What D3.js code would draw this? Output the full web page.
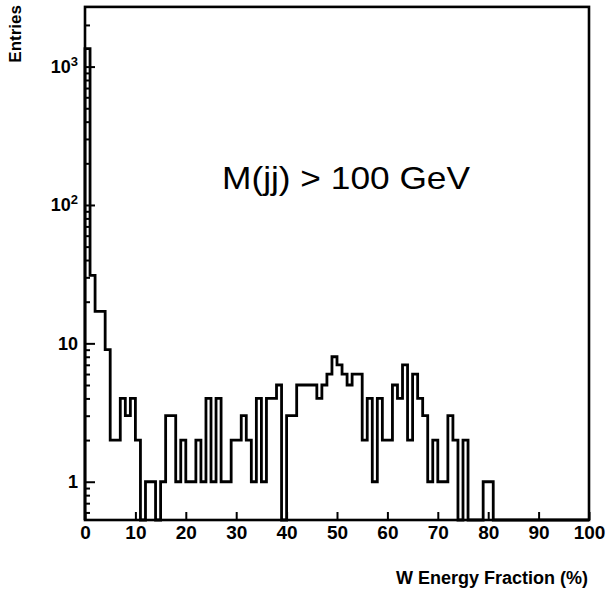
<!DOCTYPE html>
<html>
<head>
<meta charset="utf-8">
<script src="https://cdn.jsdelivr.net/npm/d3@7"></script>
<style>
  html, body { margin: 0; padding: 0; background: #fff; }
  svg { display: block; }
  text { font-family: "Liberation Sans", Arial, sans-serif; fill: #000; }
</style>
</head>
<body>
<svg id="chart" width="606" height="590"></svg>
<script>
// ---- data (counts per 1% bin, 0..100) ----
const binEdges = d3.range(0, 101, 1);
const counts = [
  1350, 31, 17, 17, 9, 2, 2, 4, 3, 4,
  2, 0, 1, 1, 0, 1, 3, 3, 1, 2,
  1, 1, 2, 1, 4, 1, 4, 1, 1, 2,
  2, 3, 2, 1, 4, 1, 4, 4, 5, 0,
  3, 3, 5, 5, 5, 5, 4, 5, 6, 8,
  7, 6, 5, 6, 6, 2, 4, 1, 4, 2,
  2, 5, 4, 7, 2, 6, 4, 3, 1, 2,
  1, 1, 3, 2, 0, 2, 0, 0, 0, 1,
  1, 0, 0, 0, 0, 0, 0, 0, 0, 0,
  0, 0, 0, 0, 0, 0, 0, 0, 0, 0
];
const xMajorTicks = [0, 10, 20, 30, 40, 50, 60, 70, 80, 90, 100];
const xMinorTicks = d3.range(0, 101, 2);
const yMajorTicks = [1, 10, 100, 1000];
const yMinorTicks = [0.6, 0.7, 0.8, 0.9, 2, 3, 4, 5, 6, 7, 8, 9, 20, 30, 40, 50, 60, 70, 80, 90, 200, 300, 400, 500, 600, 700, 800, 900, 2000];
const yDomain = [0.529, 2700];
const xLabel = "W Energy Fraction (%)";
const yLabel = "Entries";
const annotation = "M(jj) > 100 GeV";

// ---- layout ----
const svg = d3.select("#chart");
const L = 85, R = 589, T = 6.9, B = 520;
const x = d3.scaleLinear().domain([0, 100]).range([L, R]);
const y = d3.scaleLog().domain(yDomain).range([B, T]);

// histogram outline
const yv = v => y(Math.max(v, yDomain[0]));
let d = `M${x(binEdges[0])},${B}`;
counts.forEach((c, i) => {
  d += `L${x(binEdges[i])},${yv(c)}L${x(binEdges[i + 1])},${yv(c)}`;
});
d += `L${x(binEdges[binEdges.length - 1])},${B}`;
svg.append("path").attr("d", d).attr("fill", "none")
  .attr("stroke", "#000").attr("stroke-width", 2.8).attr("stroke-linejoin", "miter");

// axes
const gx = svg.append("g").attr("transform", `translate(0,${B})`);
gx.call(d3.axisBottom(x).tickValues(xMinorTicks).tickSize(-4).tickFormat(""));
gx.call(d3.axisBottom(x).tickValues(xMajorTicks).tickSize(-8).tickPadding(6).tickFormat(d3.format("d")));
gx.selectAll(".domain").remove();
gx.selectAll("line").attr("stroke", "#000").attr("stroke-width", 2);
gx.selectAll("text").attr("font-size", 19).attr("font-weight", "bold").attr("fill", "#000");

const gy = svg.append("g").attr("transform", `translate(${L},0)`);
gy.call(d3.axisLeft(y).tickValues(yMinorTicks).tickSize(-5).tickFormat(""));
const gyMaj = svg.append("g").attr("transform", `translate(${L},0)`);
gyMaj.call(d3.axisLeft(y).tickValues(yMajorTicks).tickSize(-10).tickPadding(7).tickFormat(() => ""));
gy.selectAll(".domain").remove();
gyMaj.selectAll(".domain").remove();
svg.selectAll("g line").attr("stroke", "#000").attr("stroke-width", 2);
gyMaj.selectAll(".tick text").each(function(v) {
  const t = d3.select(this).attr("font-size", 18).attr("font-weight", "bold").attr("fill", "#000");
  const e = Math.round(Math.log10(v));
  if (e <= 1) {
    t.text(String(v));
  } else {
    t.text(null);
    t.append("tspan").text("10");
    t.append("tspan").attr("font-size", 13).attr("dy", "-0.55em").text(String(e));
  }
});

// frame
svg.append("rect").attr("x", L).attr("y", T).attr("width", R - L).attr("height", B - T)
  .attr("fill", "none").attr("stroke", "#000").attr("stroke-width", 2.6);

// labels
svg.append("text").attr("x", 588).attr("y", 584).attr("text-anchor", "end")
  .attr("font-size", 18).attr("font-weight", "bold").text(xLabel);
svg.append("text").attr("transform", "translate(21,5) rotate(-90)").attr("text-anchor", "end")
  .attr("font-size", 17).attr("font-weight", "bold").text(yLabel);
svg.append("text").attr("x", 222).attr("y", 189).attr("font-size", 32)
  .attr("textLength", 248).attr("lengthAdjust", "spacingAndGlyphs").text(annotation);
</script>
</body>
</html>
